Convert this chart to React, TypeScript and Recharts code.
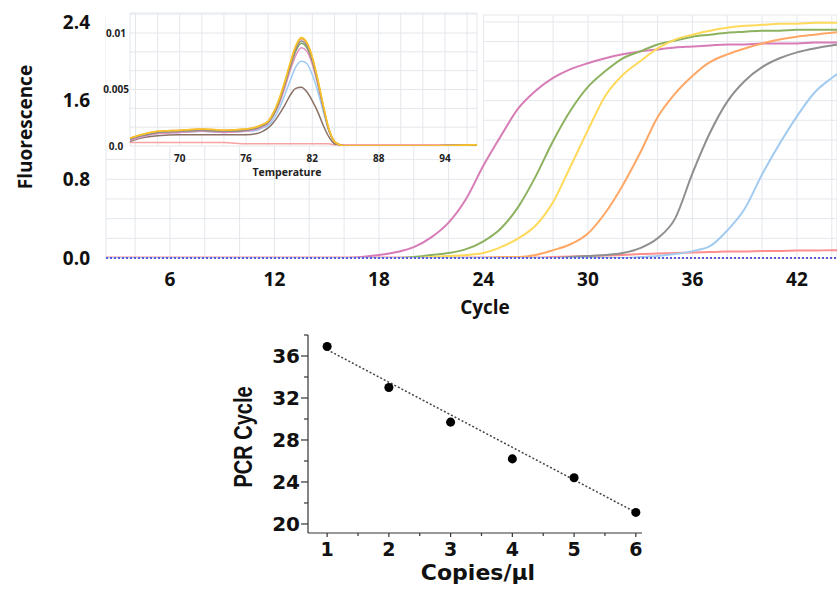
import React from 'react';
import {
  CartesianGrid,
  ComposedChart,
  Line,
  LineChart,
  ReferenceLine,
  Scatter,
  XAxis,
  YAxis,
} from 'recharts';

// ---- amplification plot (fluorescence vs cycle) ----
const cycles = [
  2, 3, 4, 5, 6, 7, 8, 9, 10, 11, 12, 13, 14, 15, 16, 17, 18, 19, 20, 21, 22, 23,
  24, 25, 26, 27, 28, 29, 30, 31, 32, 33, 34, 35, 36, 37, 38, 39, 40, 41, 42, 43, 44, 45,
];
const ampPink = [
  0, 0, 0, 0, 0, 0, 0, 0, 0, 0, 0, 0, 0, 0, 0,
  0.01, 0.03, 0.06, 0.11, 0.21, 0.36, 0.6, 0.94, 1.24, 1.52, 1.7, 1.83, 1.92, 1.98, 2.03,
  2.07, 2.1, 2.12, 2.14, 2.15, 2.16, 2.17, 2.17, 2.18, 2.18, 2.18, 2.19, 2.19, 2.19,
];
const ampGreen = [
  0, 0, 0, 0, 0, 0, 0, 0, 0, 0, 0, 0, 0, 0, 0, 0, 0, 0,
  0.01, 0.03, 0.05, 0.09, 0.17, 0.3, 0.52, 0.83, 1.19, 1.5, 1.74, 1.9, 2.03, 2.1, 2.17,
  2.21, 2.25, 2.27, 2.29, 2.3, 2.31, 2.31, 2.32, 2.32, 2.32, 2.32,
];
const ampYellow = [
  0, 0, 0, 0, 0, 0, 0, 0, 0, 0, 0, 0, 0, 0, 0, 0, 0, 0, 0,
  0.01, 0.02, 0.03, 0.05, 0.11, 0.2, 0.33, 0.57, 0.93, 1.3, 1.65, 1.86, 2.0, 2.13, 2.22,
  2.27, 2.31, 2.34, 2.36, 2.37, 2.38, 2.38, 2.39, 2.39, 2.39,
];
const ampOrange = [
  0, 0, 0, 0, 0, 0, 0, 0, 0, 0, 0, 0, 0, 0, 0, 0, 0, 0, 0, 0, 0, 0, 0,
  0.01, 0.01, 0.03, 0.08, 0.14, 0.25, 0.46, 0.74, 1.07, 1.43, 1.67, 1.85, 1.99, 2.07,
  2.13, 2.18, 2.22, 2.25, 2.27, 2.29, 2.3,
];
const ampGray = [
  0, 0, 0, 0, 0, 0, 0, 0, 0, 0, 0, 0, 0, 0, 0, 0, 0, 0, 0, 0, 0, 0, 0, 0, 0, 0, 0,
  0.01, 0.02, 0.03, 0.05, 0.1, 0.2, 0.4, 0.86, 1.27, 1.59, 1.8, 1.94, 2.03, 2.09, 2.13,
  2.16, 2.18,
];
const ampBlue = [
  0, 0, 0, 0, 0, 0, 0, 0, 0, 0, 0, 0, 0, 0, 0, 0, 0, 0, 0, 0, 0, 0, 0, 0, 0, 0, 0, 0,
  0, 0, 0,
  0.01, 0.02, 0.04, 0.07, 0.12, 0.28, 0.5, 0.85, 1.16, 1.44, 1.68, 1.83, 1.95,
];
const ampNtc = [
  0.005, 0.005, 0.005, 0.005, 0.005, 0.005, 0.005, 0.005, 0.005, 0.005, 0.005, 0.005,
  0.005, 0.005, 0.005, 0.005, 0.005, 0.005, 0.005, 0.005, 0.005, 0.005, 0.005, 0.005,
  0.005, 0.005,
  0.01, 0.015, 0.02, 0.025, 0.03, 0.04, 0.045, 0.05, 0.055, 0.06, 0.065, 0.065, 0.07,
  0.07, 0.075, 0.075, 0.08, 0.08,
];
const fluorTicks = [0, 0.2, 0.4, 0.6, 0.8, 1.0, 1.2, 1.4, 1.6, 1.8, 2.0, 2.2, 2.4];
const fluorLabels = [0, 0.8, 1.6, 2.4];
const cycleTicks = [4, 6, 8, 10, 12, 14, 16, 18, 20, 22, 24, 26, 28, 30, 32, 34, 36, 38, 40, 42, 44];
const cycleLabels = [6, 12, 18, 24, 30, 36, 42];

// ---- melt curve inset (derivative vs temperature) ----
const temps = [
  65.5, 66.5, 68, 70, 72, 74, 76, 77, 77.5, 78, 78.5, 79, 79.5, 80, 80.5, 81, 81.5, 82,
  82.5, 83, 83.5, 84, 84.5, 85, 88, 92, 96.9,
];
const meltYellow = [
  0.0007, 0.001, 0.0013, 0.0014, 0.0015, 0.0014, 0.0015, 0.0017, 0.0019, 0.0022, 0.003,
  0.0042, 0.0057, 0.0074, 0.0089, 0.0096, 0.0092, 0.0079, 0.0059, 0.0036, 0.0015, 0.0004,
  0.0001, 0, 0, 0, 0.0001,
];
const meltOrange = [
  0.0007, 0.001, 0.0013, 0.0014, 0.0015, 0.0014, 0.0015, 0.0017, 0.0019, 0.0022, 0.003,
  0.0041, 0.0056, 0.0073, 0.0088, 0.0095, 0.0091, 0.0078, 0.0058, 0.0035, 0.0015, 0.0004,
  0.0001, 0, 0, 0, 0.0001,
];
const meltGray = [
  0.0006, 0.0009, 0.0012, 0.0013, 0.0014, 0.0013, 0.0014, 0.0016, 0.0018, 0.0021, 0.0029,
  0.004, 0.0055, 0.0071, 0.0086, 0.0093, 0.0089, 0.0076, 0.0057, 0.0034, 0.0014, 0.0004,
  0.0001, 0, 0, 0, 0.0001,
];
const meltGreen = [
  0.0006, 0.0009, 0.0012, 0.0013, 0.0014, 0.0013, 0.0014, 0.0016, 0.0018, 0.0021, 0.0028,
  0.0039, 0.0054, 0.007, 0.0084, 0.0091, 0.0087, 0.0075, 0.0056, 0.0034, 0.0014, 0.0004,
  0.0001, 0, 0, 0, 0.0001,
];
const meltPink = [
  0.0005, 0.0008, 0.0011, 0.0012, 0.0013, 0.0012, 0.0013, 0.0015, 0.0017, 0.002, 0.0027,
  0.0037, 0.0051, 0.0067, 0.008, 0.0087, 0.0084, 0.0072, 0.0054, 0.0033, 0.0014, 0.0004,
  0.0001, 0, 0, 0, 0.0001,
];
const meltBlue = [
  0.0005, 0.0008, 0.0011, 0.0012, 0.0013, 0.0012, 0.0013, 0.0014, 0.0016, 0.0018, 0.0024,
  0.0033, 0.0045, 0.0058, 0.007, 0.0075, 0.0073, 0.0063, 0.0048, 0.003, 0.0013, 0.0004,
  0.0001, 0, 0, 0, 0.0001,
];
const meltBrown = [
  0.0004, 0.0007, 0.0009, 0.001, 0.001, 0.001, 0.001, 0.0011, 0.0013, 0.0016, 0.0021,
  0.0028, 0.0036, 0.0045, 0.0051, 0.0052, 0.0048, 0.004, 0.003, 0.0018, 0.0008, 0.0002,
  0.0001, 0, 0, 0, 0.0001,
];
const meltNtc = [
  0.0003, 0.0003, 0.0003, 0.0003, 0.0003, 0.0003, 0.0002, 0.0002, 0.0002, 0.0002, 0.0002,
  0.0002, 0.0002, 0.0002, 0.0002, 0.0002, 0.0002, 0.0002, 0.0002, 0.0002, 0.0002, 0.0001,
  0.0001, 0.0001, 0.0001, 0.0001, 0.0001,
];
const meltYTicks = [0, 0.00167, 0.00333, 0.005, 0.00667, 0.00833, 0.01, 0.01167];
const meltYLabelValues = [0, 0.005, 0.01];
const meltYLabelText = ['0.0', '0.005', '0.01'];
const tempTicks = [66, 68, 70, 72, 74, 76, 78, 80, 82, 84, 86, 88, 90, 92, 94, 96];
const tempLabels = [70, 76, 82, 88, 94];

// ---- standard curve ----
const copies = [1, 2, 3, 4, 5, 6];
const ctValues = [36.9, 33.0, 29.7, 26.2, 24.4, 21.1];
const trendCopies = [1, 6];
const trendCt = [36.6, 21.1];
const stdYTicks = [20, 22, 24, 26, 28, 30, 32, 34, 36, 38];
const stdYLabels = [20, 24, 28, 32, 36];
const stdXTicks = [1, 1.5, 2, 2.5, 3, 3.5, 4, 4.5, 5, 5.5, 6];

const ampData = cycles.map((c, i) => ({
  cycle: c,
  pink: ampPink[i],
  green: ampGreen[i],
  yellow: ampYellow[i],
  orange: ampOrange[i],
  gray: ampGray[i],
  blue: ampBlue[i],
  ntc: ampNtc[i],
}));

const meltData = temps.map((t, i) => ({
  t,
  yellow: meltYellow[i],
  orange: meltOrange[i],
  gray: meltGray[i],
  green: meltGreen[i],
  pink: meltPink[i],
  blue: meltBlue[i],
  brown: meltBrown[i],
  ntc: meltNtc[i],
}));

const stdData = copies.map((c, i) => ({ x: c, y: ctValues[i] }));

const near = (list: number[], v: number) => list.some((l) => Math.abs(l - v) < 1e-6);

const AMP_FONT = '"Open Sans", sans-serif';
const STD_FONT = '"DejaVu Sans", sans-serif';
const GRID = '#e4e7ec';

function StdYTick({ x, y, payload }: any) {
  const v = payload.value as number;
  const major = near(stdYLabels, v);
  return (
    <g>
      <line x1={x - (major ? 7 : 4)} x2={x} y1={y} y2={y} stroke="#333" strokeWidth={1.2} />
      {major && (
        <text
          x={x - 8}
          y={y}
          dy="0.36em"
          textAnchor="end"
          fontFamily={STD_FONT}
          fontWeight={700}
          fontSize={20}
          fill="#111"
        >
          {v}
        </text>
      )}
    </g>
  );
}

function StdXTick({ x, y, payload }: any) {
  const v = payload.value as number;
  const major = Number.isInteger(v);
  return (
    <g>
      <line x1={x} x2={x} y1={y} y2={y + (major ? 4 : 3)} stroke="#333" strokeWidth={1.2} />
      {major && (
        <text
          x={x}
          y={y + 23}
          textAnchor="middle"
          fontFamily={STD_FONT}
          fontWeight={700}
          fontSize={19}
          fill="#111"
        >
          {v}
        </text>
      )}
    </g>
  );
}

export default function App() {
  return (
    <div
      style={{
        position: 'absolute',
        left: 0,
        top: 0,
        width: 837,
        height: 589,
        overflow: 'hidden',
        background: '#fff',
      }}
    >
      {/* amplification curves */}
      <div style={{ position: 'absolute', left: 0, top: 0 }}>
        <LineChart width={837} height={300} data={ampData} margin={{ top: 15, right: 0, bottom: 0, left: 0 }}>
          <CartesianGrid stroke={GRID} strokeWidth={1} />
          <XAxis
            dataKey="cycle"
            type="number"
            domain={[2.33, 44.3]}
            allowDataOverflow
            ticks={cycleTicks}
            tickFormatter={(v: number) => (near(cycleLabels, v) ? String(v) : '')}
            axisLine={false}
            tickLine={false}
            tickSize={0}
            tickMargin={15}
            height={42}
            tick={{ fill: '#111', fontSize: 19, fontWeight: 700, fontFamily: AMP_FONT }}
          />
          <YAxis
            type="number"
            domain={[0, 2.47]}
            allowDataOverflow
            ticks={fluorTicks}
            tickFormatter={(v: number) => (near(fluorLabels, v) ? v.toFixed(1) : '')}
            axisLine={false}
            tickLine={false}
            tickSize={0}
            tickMargin={16}
            width={106}
            tick={{ fill: '#111', fontSize: 19, fontWeight: 700, fontFamily: AMP_FONT }}
          />
          <Line type="monotone" dataKey="ntc" stroke="#ff8f8f" strokeWidth={2} dot={false} isAnimationActive={false} />
          <Line type="monotone" dataKey="pink" stroke="#d77cb6" strokeWidth={2} dot={false} isAnimationActive={false} />
          <Line type="monotone" dataKey="green" stroke="#8db25f" strokeWidth={2} dot={false} isAnimationActive={false} />
          <Line type="monotone" dataKey="yellow" stroke="#ffd95a" strokeWidth={2} dot={false} isAnimationActive={false} />
          <Line type="monotone" dataKey="orange" stroke="#ffa766" strokeWidth={2} dot={false} isAnimationActive={false} />
          <Line type="monotone" dataKey="gray" stroke="#8f8f8f" strokeWidth={2} dot={false} isAnimationActive={false} />
          <Line type="monotone" dataKey="blue" stroke="#a3cbf0" strokeWidth={2} dot={false} isAnimationActive={false} />
          <ReferenceLine y={0} stroke="#5a5ad8" strokeWidth={2} strokeDasharray="2 2" ifOverflow="visible" />
        </LineChart>
      </div>

      <div
        style={{
          position: 'absolute',
          left: 25,
          top: 127,
          transform: 'translate(-50%, -50%) rotate(-90deg)',
          fontFamily: AMP_FONT,
          fontWeight: 700,
          fontSize: 19,
          lineHeight: 1,
          whiteSpace: 'nowrap',
          color: '#111',
        }}
      >
        Fluorescence
      </div>
      <div
        style={{
          position: 'absolute',
          left: 485,
          top: 307,
          transform: 'translate(-50%, -50%)',
          fontFamily: AMP_FONT,
          fontWeight: 700,
          fontSize: 19,
          lineHeight: 1,
          whiteSpace: 'nowrap',
          color: '#111',
        }}
      >
        Cycle
      </div>

      {/* melt curve inset */}
      <div style={{ position: 'absolute', left: 106, top: 13, width: 377, height: 133, background: '#fff' }} />
      <div style={{ position: 'absolute', left: 100, top: 0 }}>
        <LineChart width={390} height={185} data={meltData} margin={{ top: 13, right: 13, bottom: 0, left: 0 }}>
          <CartesianGrid stroke={GRID} strokeWidth={1} fill="#fff" fillOpacity={1} />
          <XAxis
            dataKey="t"
            type="number"
            domain={[65.5, 96.9]}
            allowDataOverflow
            ticks={tempTicks}
            tickFormatter={(v: number) => (near(tempLabels, v) ? String(v) : '')}
            axisLine={false}
            tickLine={false}
            tickSize={0}
            tickMargin={9}
            height={39}
            tick={{ fill: '#222', fontSize: 10, fontWeight: 700, fontFamily: AMP_FONT }}
          />
          <YAxis
            type="number"
            domain={[0, 0.01177]}
            allowDataOverflow
            ticks={meltYTicks}
            tickFormatter={(v: number) => {
              const k = meltYLabelValues.findIndex((l) => Math.abs(l - v) < 1e-7);
              return k >= 0 ? meltYLabelText[k] : '';
            }}
            axisLine={false}
            tickLine={false}
            tickSize={0}
            tickMargin={14}
            width={30}
            tick={{ fill: '#222', fontSize: 10, fontWeight: 700, fontFamily: AMP_FONT, textAnchor: 'middle' }}
          />
          <Line type="monotone" dataKey="ntc" stroke="#f7a3a3" strokeWidth={1.5} dot={false} isAnimationActive={false} />
          <Line type="monotone" dataKey="brown" stroke="#8b7163" strokeWidth={1.5} dot={false} isAnimationActive={false} />
          <Line type="monotone" dataKey="blue" stroke="#9ccbf2" strokeWidth={1.5} dot={false} isAnimationActive={false} />
          <Line type="monotone" dataKey="pink" stroke="#e58fc4" strokeWidth={1.5} dot={false} isAnimationActive={false} />
          <Line type="monotone" dataKey="green" stroke="#7e9f5c" strokeWidth={1.5} dot={false} isAnimationActive={false} />
          <Line type="monotone" dataKey="gray" stroke="#8f8f8f" strokeWidth={1.5} dot={false} isAnimationActive={false} />
          <Line type="monotone" dataKey="orange" stroke="#f39c3c" strokeWidth={1.5} dot={false} isAnimationActive={false} />
          <Line type="monotone" dataKey="yellow" stroke="#f7c52a" strokeWidth={1.5} dot={false} isAnimationActive={false} />
        </LineChart>
      </div>
      <div
        style={{
          position: 'absolute',
          left: 287,
          top: 172,
          transform: 'translate(-50%, -50%)',
          fontFamily: AMP_FONT,
          fontWeight: 700,
          fontSize: 10.5,
          lineHeight: 1,
          whiteSpace: 'nowrap',
          color: '#222',
        }}
      >
        Temperature
      </div>

      {/* standard curve */}
      <div style={{ position: 'absolute', left: 220, top: 320 }}>
        <ComposedChart width={440} height={269} data={stdData} margin={{ top: 15, right: 18, bottom: 0, left: 0 }}>
          <XAxis
            dataKey="x"
            type="number"
            domain={[0.69, 6.1]}
            ticks={stdXTicks}
            interval={0}
            axisLine={{ stroke: '#333', strokeWidth: 1.2 }}
            tickLine={false}
            tickSize={0}
            tickMargin={0}
            height={56}
            tick={<StdXTick />}
          />
          <YAxis
            dataKey="y"
            type="number"
            domain={[19.14, 38]}
            ticks={stdYTicks}
            interval={0}
            axisLine={{ stroke: '#333', strokeWidth: 1.2 }}
            tickLine={false}
            tickSize={0}
            tickMargin={0}
            width={88}
            tick={<StdYTick />}
          />
          <ReferenceLine
            segment={[
              { x: trendCopies[0], y: trendCt[0] },
              { x: trendCopies[1], y: trendCt[1] },
            ]}
            stroke="#444"
            strokeWidth={1.5}
            strokeDasharray="2 2"
          />
          <Scatter dataKey="y" fill="#000" shape="circle" isAnimationActive={false} />
        </ComposedChart>
      </div>
      <div
        style={{
          position: 'absolute',
          left: 243,
          top: 437,
          transform: 'translate(-50%, -50%) rotate(-90deg) scaleY(1.3)',
          fontFamily: '"Liberation Sans", Arial, sans-serif',
          fontWeight: 700,
          fontSize: 20,
          lineHeight: 1,
          whiteSpace: 'nowrap',
          color: '#111',
        }}
      >
        PCR Cycle
      </div>
      <div
        style={{
          position: 'absolute',
          left: 478,
          top: 573,
          transform: 'translate(-50%, -50%)',
          fontFamily: STD_FONT,
          fontWeight: 700,
          fontSize: 22,
          lineHeight: 1,
          whiteSpace: 'nowrap',
          color: '#111',
        }}
      >
        Copies/µl
      </div>
    </div>
  );
}
